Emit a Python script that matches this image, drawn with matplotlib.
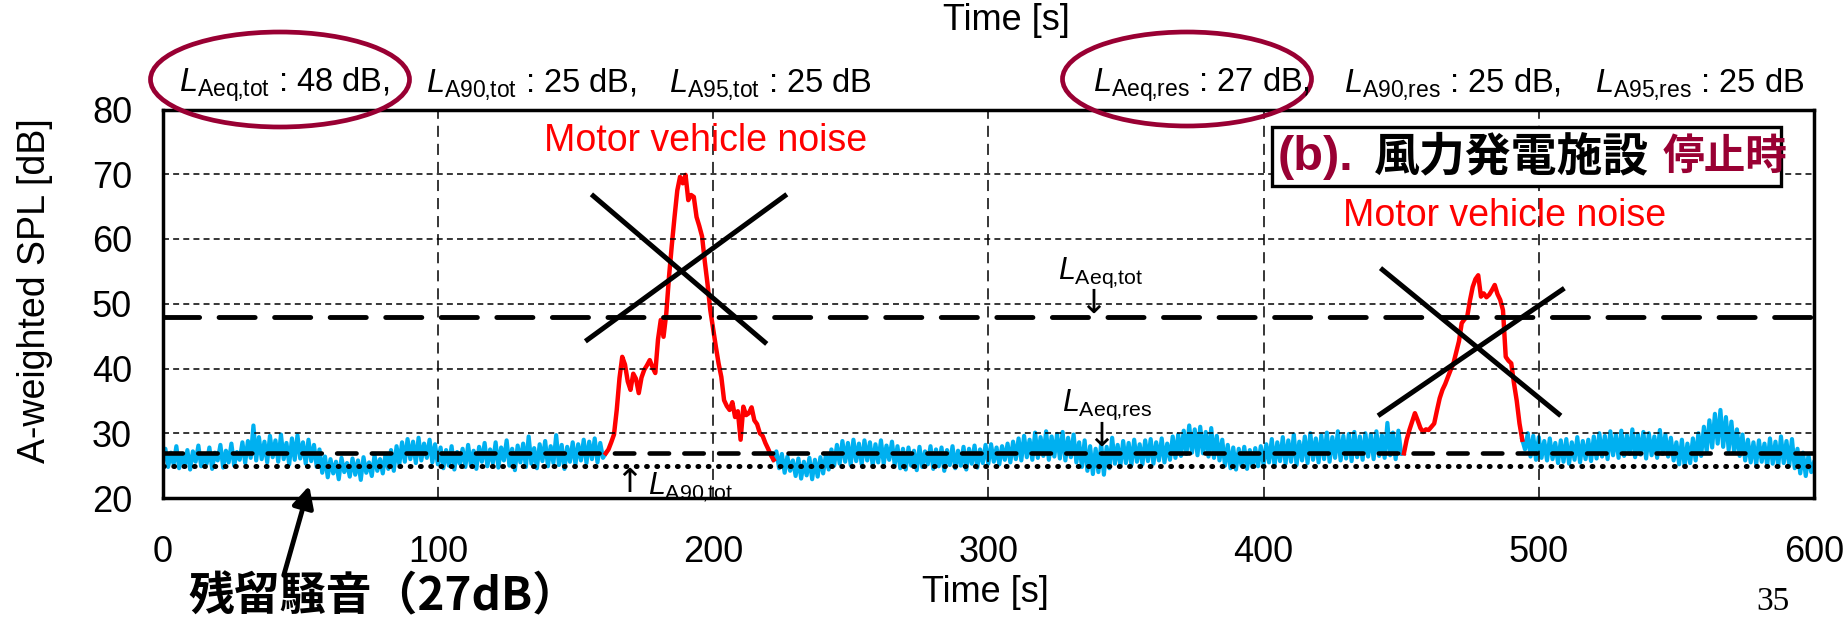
import numpy as np
import matplotlib
matplotlib.use("Agg")
import matplotlib.pyplot as plt
from matplotlib.patches import Ellipse, Rectangle

plt.rcParams['font.family'] = ['Liberation Sans', 'Noto Sans CJK JP', 'DejaVu Sans']
plt.rcParams['mathtext.fontset'] = 'custom'
plt.rcParams['mathtext.rm'] = 'Liberation Sans'
plt.rcParams['mathtext.it'] = 'Liberation Sans:italic'
plt.rcParams['lines.scale_dashes'] = False

# =========================
# DATA (1 s steps)
# =========================
blue_a_start = 0
blue_a = [
    25.5, 27.6, 24.8, 27.0, 25.2, 28.0, 24.6, 26.8, 25.0, 27.4,
    24.4, 27.2, 25.6, 28.1, 24.9, 26.6, 25.3, 27.8, 24.5, 27.0,
    25.8, 28.2, 24.7, 27.3, 25.5, 28.4, 25.0, 27.1, 25.9, 28.6,
    25.4, 28.8, 26.2, 31.2, 25.8, 29.4, 26.0, 28.7, 25.5, 29.6,
    26.3, 28.9, 25.6, 29.8, 26.0, 28.5, 25.2, 29.2, 25.9, 29.7,
    26.1, 28.6, 25.3, 29.0, 25.7, 28.2, 24.8, 27.5, 23.9, 26.4,
    23.2, 26.0, 23.8, 25.6, 22.9, 26.2, 24.0, 25.4, 23.3, 26.1,
    23.6, 25.8, 22.8, 26.3, 23.9, 25.5, 23.4, 26.6, 24.2, 26.0,
    23.8, 26.8, 24.5, 27.4, 24.2, 28.0, 25.2, 28.6, 25.6, 29.1,
    26.0, 28.7, 25.4, 29.3, 25.8, 28.4, 26.2, 29.0, 25.5, 28.3,
    25.2, 27.8, 24.6, 27.4, 25.0, 28.0, 24.4, 27.1, 25.3, 27.6,
    24.8, 28.2, 25.1, 27.3, 24.5, 27.9, 25.6, 28.5, 24.9, 27.5,
    25.4, 28.6, 24.7, 27.8, 25.8, 28.9, 25.0, 27.6, 24.3, 28.1,
    25.5, 28.4, 24.8, 29.5, 25.3, 27.7, 24.6, 28.3, 25.7, 28.8,
    24.9, 28.0, 25.4, 29.7, 25.1, 28.2, 24.5, 27.9, 25.6, 28.6,
    25.2, 28.3, 25.8, 29.0, 25.4, 28.7, 26.0, 29.2, 25.5, 28.5,
    26.2, 26.9,
]

red_a_start = 161
red_a = [
    26.9, 27.5, 28.6, 29.8, 33.6, 38.5, 41.8, 40.6, 38.0, 36.7,
    39.2, 38.4, 36.2, 38.6, 39.8, 40.5, 41.3, 40.2, 39.3, 44.5,
    47.5, 44.9, 48.5, 54.2, 59.0, 63.4, 67.5, 69.6, 68.6, 69.9,
    66.0, 66.8, 66.5, 63.4, 62.0, 60.4, 56.5, 53.0, 49.0, 46.2,
    43.4, 40.8, 38.7, 35.1, 34.2, 33.6, 34.8, 32.5, 33.4, 29.0,
    34.1, 32.8, 33.1, 34.0, 32.0, 31.4, 30.0, 29.6, 28.5, 27.6,
    26.6, 25.9,
]

blue_b_start = 222
blue_b = [
    25.9, 27.2, 24.6, 26.8, 23.9, 26.4, 24.2, 25.8,
    23.4, 26.1, 23.0, 25.6, 23.5, 26.2, 22.9, 25.9, 23.3, 26.3,
    23.8, 26.7, 24.4, 27.5, 25.0, 28.2, 25.3, 28.8, 25.6, 28.5,
    25.1, 29.0, 25.7, 28.4, 25.2, 28.9, 25.8, 28.6, 25.0, 28.3,
    25.5, 28.9, 25.3, 28.1, 25.9, 28.7, 25.1, 28.0, 24.6, 27.6,
    24.4, 27.8, 25.0, 27.3, 24.3, 27.9, 24.8, 27.2, 25.2, 28.0,
    24.5, 27.5, 24.9, 27.8, 24.2, 27.4, 25.1, 28.0, 24.6, 27.3,
    25.0, 27.9, 24.4, 27.6, 25.3, 28.1, 24.7, 27.5, 25.4, 28.2,
    25.3, 28.3, 25.6, 27.8, 25.2, 28.0, 25.9, 28.4, 25.5, 28.7,
    26.0, 29.2, 25.8, 29.6, 26.3, 29.0, 25.9, 30.1, 26.2, 29.4,
    26.5, 30.3, 25.9, 29.5, 26.4, 29.9, 26.1, 30.2, 25.8, 29.3,
    26.3, 29.8, 25.5, 28.6, 24.8, 28.9, 24.2, 28.0, 23.7, 27.6,
    24.0, 28.4, 23.6, 27.9, 24.6, 29.3, 25.3, 28.2, 25.0, 28.8,
    25.4, 28.5, 25.1, 29.0, 25.6, 28.3, 25.2, 28.9, 25.7, 29.1,
    25.3, 28.6, 25.8, 29.2, 25.5, 28.4, 25.9, 29.5, 26.2, 29.8,
    26.5, 30.4, 26.8, 31.2, 27.0, 30.6, 26.6, 31.0, 26.9, 30.2,
    26.4, 30.8, 26.2, 29.6, 25.8, 29.0, 25.0, 28.2, 24.6, 27.8,
    24.4, 27.6, 25.0, 27.9, 24.5, 27.4, 24.8, 27.7, 24.9, 28.0,
    25.2, 28.3, 25.5, 29.1, 25.0, 28.6, 25.7, 29.4, 25.3, 28.9,
    25.6, 29.8, 25.1, 28.7, 25.8, 29.5, 25.4, 30.0, 25.9, 29.2,
    25.5, 29.7, 26.0, 30.1, 25.6, 29.4, 26.2, 30.3, 25.8, 29.6,
    26.1, 29.9, 25.7, 30.2, 26.3, 29.5, 25.9, 30.0, 26.4, 29.8,
    26.0, 30.3, 26.5, 29.7, 26.2, 31.6, 26.6, 30.1, 26.0, 30.4,
    26.8, 26.9,
]

red_b_start = 451
red_b = [
    26.9, 29.0, 30.5, 31.8, 33.1, 32.0, 30.8, 30.2, 30.6, 30.5,
    31.0, 31.5, 33.5, 35.4, 36.7, 37.6, 38.7, 39.8, 40.8, 42.5,
    44.2, 47.0, 47.6, 48.0, 50.5, 52.6, 53.8, 54.4, 51.1, 51.6,
    51.0, 51.4, 52.1, 52.9, 51.5, 50.6, 49.0, 41.8, 41.2, 40.8,
    37.7, 35.0, 31.5, 29.0,
]

blue_c_start = 494
blue_c = [
    29.0, 27.5, 30.0, 26.4, 29.6, 25.9,
    29.4, 26.2, 28.8, 25.8, 29.2, 26.0, 28.5, 25.4, 28.9, 25.6,
    29.1, 25.3, 28.6, 25.9, 29.4, 25.5, 28.8, 26.0, 29.0, 25.7,
    29.5, 26.1, 30.0, 26.4, 29.6, 26.0, 30.3, 26.6, 29.8, 26.2,
    30.4, 26.5, 29.7, 26.8, 30.6, 26.3, 29.9, 26.7, 30.2, 26.1,
    30.0, 26.6, 29.5, 26.2, 30.5, 26.8, 29.8, 26.4, 29.3, 25.8,
    28.6, 25.2, 29.0, 24.9, 28.4, 25.4, 29.2, 25.8, 30.0, 26.5,
    31.0, 27.2, 32.0, 27.8, 33.0, 28.4, 33.6, 27.9, 32.5, 27.4,
    31.8, 27.0, 30.6, 26.5, 29.8, 25.8, 29.0, 25.5, 28.6, 25.2,
    28.9, 25.6, 28.4, 25.0, 29.2, 25.3, 28.7, 24.9, 29.5, 25.4,
    28.8, 25.0, 29.1, 24.6, 27.6, 23.8, 27.0, 23.4, 26.6, 24.0,
    25.5,
]

# levels
laeq_tot = 48
laeq_res = 27
la90_tot = 25

# crossed-out marks (data coords)
cross_1a = ([153.6, 226.8], [44.2, 66.9])
cross_1b = ([155.8, 219.5], [66.9, 43.8])
cross_2a = ([442.5, 508.0], [55.5, 32.7])
cross_2b = ([441.6, 509.3], [32.7, 52.4])

x_ticks = [0, 100, 200, 300, 400, 500, 600]
y_ticks = [20, 30, 40, 50, 60, 70, 80]

BLUE = '#00B0F0'
RED = '#FF0000'
MAROON = '#990033'

# =========================
# FIGURE
# =========================
W, H = 1847, 621
fig = plt.figure(figsize=(W / 100, H / 100), dpi=100)
ax_l, ax_r, ax_t, ax_b = 162.6, 1814, 109.5, 498
ax = fig.add_axes([ax_l / W, (H - ax_b) / H, (ax_r - ax_l) / W, (ax_b - ax_t) / H])

for start, vals, col, lw in [(blue_a_start, blue_a, BLUE, 3.0),
                             (blue_b_start, blue_b, BLUE, 3.0),
                             (blue_c_start, blue_c, BLUE, 3.0),
                             (red_a_start, red_a, RED, 3.2),
                             (red_b_start, red_b, RED, 3.2)]:
    t = start + np.arange(len(vals))
    ax.plot(t, vals, color=col, lw=lw, zorder=2)

# grid
for xv in x_ticks[1:-1]:
    ax.axvline(xv, color='black', lw=1.1, dashes=(8, 5), zorder=3)
for yv in y_ticks[1:-1]:
    ax.axhline(yv, color='black', lw=1.1, dashes=(4.3, 3), zorder=3)

# level lines
ax.axhline(laeq_tot, color='black', lw=3.5, dashes=(26, 14), dash_capstyle='round', zorder=4)
ax.axhline(laeq_res, color='black', lw=3.3, dashes=(14, 11), dash_capstyle='round', zorder=4)
ax.axhline(la90_tot, color='black', lw=3.6, dashes=(0.6, 6.8), dash_capstyle='round', zorder=4)

for cx, cy in [cross_1a, cross_1b, cross_2a, cross_2b]:
    ax.plot(cx, cy, color='black', lw=3.6, solid_capstyle='butt', zorder=5)

ax.set_xlim(0, 600)
ax.set_ylim(20, 80)
ax.set_xticks(x_ticks)
ax.set_yticks(y_ticks)
ax.tick_params(length=0, labelsize=26)
ax.tick_params(axis='x', pad=27)
ax.tick_params(axis='y', pad=22)
for sp in ax.spines.values():
    sp.set_linewidth(2.5)
    sp.set_zorder(6)

ax.set_xlabel('Time [s]', fontsize=26)
ax.xaxis.set_label_coords((985 - ax_l) / (ax_r - ax_l), (ax_b - 592) / (ax_b - ax_t))
ax.xaxis.label.set_va('center')
ax.set_ylabel('A-weighted SPL [dB]', fontsize=27)
ax.yaxis.set_label_coords((35 - ax_l) / (ax_r - ax_l), (ax_b - 291) / (ax_b - ax_t))
ax.yaxis.label.set_va('center')

# =========================
# OVERLAY (pixel coords)
# =========================
ov = fig.add_axes([0, 0, 1, 1], zorder=5)
ov.set_xlim(0, W)
ov.set_ylim(H, 0)
ov.axis('off')
ov.patch.set_alpha(0)

ov.text(1006, 20, 'Time [s]', fontsize=26, ha='center', va='center')

# U+201A used as comma so mathtext adds no punctuation space
row_y = 92
row = [
    (179, r'$L_{\rm Aeq‚tot}$ : 48 dB,'),
    (426, r'$L_{\rm A90‚tot}$ : 25 dB,'),
    (669, r'$L_{\rm A95‚tot}$ : 25 dB'),
    (1093, r'$L_{\rm Aeq‚res}$ : 27 dB,'),
    (1344, r'$L_{\rm A90‚res}$ : 25 dB,'),
    (1595, r'$L_{\rm A95‚res}$ : 25 dB'),
]
for x, s in row:
    ov.text(x, row_y, s, fontsize=23.5, ha='left', va='baseline')

ov.add_patch(Ellipse((280, 79.5), 259, 95, fill=False, ec=MAROON, lw=3.4))
ov.add_patch(Ellipse((1187, 79), 249, 94, fill=False, ec=MAROON, lw=3.4))

# title box
ov.add_patch(Rectangle((1272, 127), 509, 59, fc='white', ec='black', lw=2.4))
ov.text(1278, 158, '(b).', fontsize=35, fontweight='bold', color=MAROON, ha='left', va='center')
ov.text(1374, 158, '風力発電施設', fontsize=33, fontweight='bold', color='black', ha='left', va='center')
ov.text(1663, 158, '停止時', fontsize=30, fontweight='bold', color=MAROON, ha='left', va='center')

ov.text(706, 141, 'Motor vehicle noise', fontsize=27, color=RED, ha='center', va='center')
ov.text(1505, 216, 'Motor vehicle noise', fontsize=27, color=RED, ha='center', va='center')

ov.text(1101, 273, r'$L_{\rm Aeq‚tot}$', fontsize=22, ha='center', va='center')
ov.text(1093, 303, '↓', fontsize=24, ha='center', va='center', family=['DejaVu Sans'])
ov.text(1107, 405, r'$L_{\rm Aeq‚res}$', fontsize=22, ha='center', va='center')
ov.text(1101, 436, '↓', fontsize=24, ha='center', va='center', family=['DejaVu Sans'])
ov.text(629, 482, '↑', fontsize=24, ha='center', va='center', family=['DejaVu Sans'])
ov.text(648, 494, r'$L_{\rm A90‚tot}$', fontsize=22, ha='left', va='baseline')

ov.text(188, 597, '残留騒音（27dB）', fontsize=33, fontweight='bold', ha='left', va='center',
        family=['Noto Sans CJK JP'])
ov.annotate('', xy=(310, 483), xytext=(283, 578),
            arrowprops=dict(arrowstyle='-|>', lw=3.5, color='black', mutation_scale=32))

ov.text(1773, 602, '35', fontsize=24, family=['Liberation Serif'], ha='center', va='center')

fig.savefig('out.png', dpi=100)
